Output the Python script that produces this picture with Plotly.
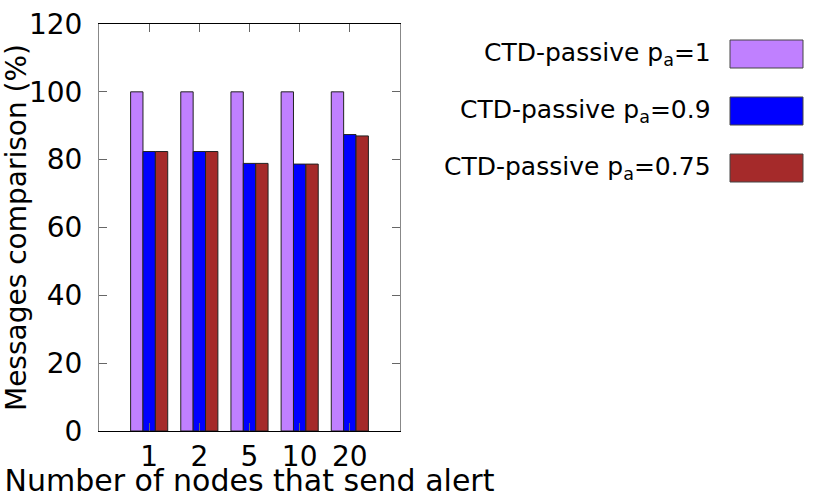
import plotly.graph_objects as go

# ── Data ──────────────────────────────────────────────────────────────────────
NODES = ["1", "2", "5", "10", "20"]
SERIES = [
    "CTD-passive p<sub>a</sub>=1",
    "CTD-passive p<sub>a</sub>=0.9",
    "CTD-passive p<sub>a</sub>=0.75",
]
PA_1 = [100, 100, 100, 100, 100]
PA_09 = [82.4, 82.4, 78.9, 78.7, 87.4]
PA_075 = [82.4, 82.4, 78.9, 78.7, 87.0]

COLORS = ["#c080ff", "#0000ff", "#a52a2a"]
FONT = "DejaVu Sans, sans-serif"

fig = go.Figure()
for name, vals, color in zip(SERIES, [PA_1, PA_09, PA_075], COLORS):
    fig.add_trace(go.Bar(
        x=NODES, y=vals, name=name,
        marker=dict(color=color, line=dict(color="#222222", width=1)),
        showlegend=False,
    ))

# legend drawn by hand: right-aligned text, colour box on the right
for i, (name, color) in enumerate(zip(SERIES, COLORS)):
    y_mid = 54 + 57 * i
    fig.add_annotation(
        xref="paper", yref="paper",
        x=(713 - 99) / 301, y=(431 - y_mid) / 407,
        text=name, showarrow=False, xanchor="right", yanchor="middle",
        font=dict(family=FONT, size=25, color="black"),
    )
    fig.add_shape(
        type="rect", xref="paper", yref="paper",
        x0=(730 - 99) / 301, x1=(803 - 99) / 301,
        y0=(431 - y_mid - 14) / 407, y1=(431 - y_mid + 14) / 407,
        fillcolor=color, line=dict(color="#444444", width=1),
    )

fig.update_layout(
    width=830, height=498,
    paper_bgcolor="white", plot_bgcolor="white",
    font=dict(family=FONT, color="black", size=28),
    margin=dict(l=99, r=430, t=24, b=67),
    barmode="group", bargap=0.26, bargroupgap=0,
    xaxis=dict(
        type="category", range=[-1, 5], automargin=False,
        showline=True, linecolor="black", linewidth=1, mirror="ticks",
        ticks="inside", ticklen=8, tickcolor="#666666",
        tickfont=dict(size=28), ticklabelstandoff=0,
        showgrid=False, zeroline=False,
        title=dict(text="Number of nodes that send alert",
                   font=dict(size=30), standoff=3),
    ),
    yaxis=dict(
        range=[0, 120], dtick=20, automargin=False,
        showline=True, linecolor="#888888", linewidth=1, mirror="ticks",
        ticks="inside", ticklen=8, tickcolor="#666666",
        tickfont=dict(size=28), ticklabelstandoff=10,
        showgrid=False, zeroline=False,
        title=dict(text="Messages comparison (%)",
                   font=dict(size=28), standoff=4),
    ),
)

# page body has a default margin; drop it so the figure sits at 0,0
fig.write_html("out.html", config={"displayModeBar": False},
               post_script="document.body.style.margin='0';")
